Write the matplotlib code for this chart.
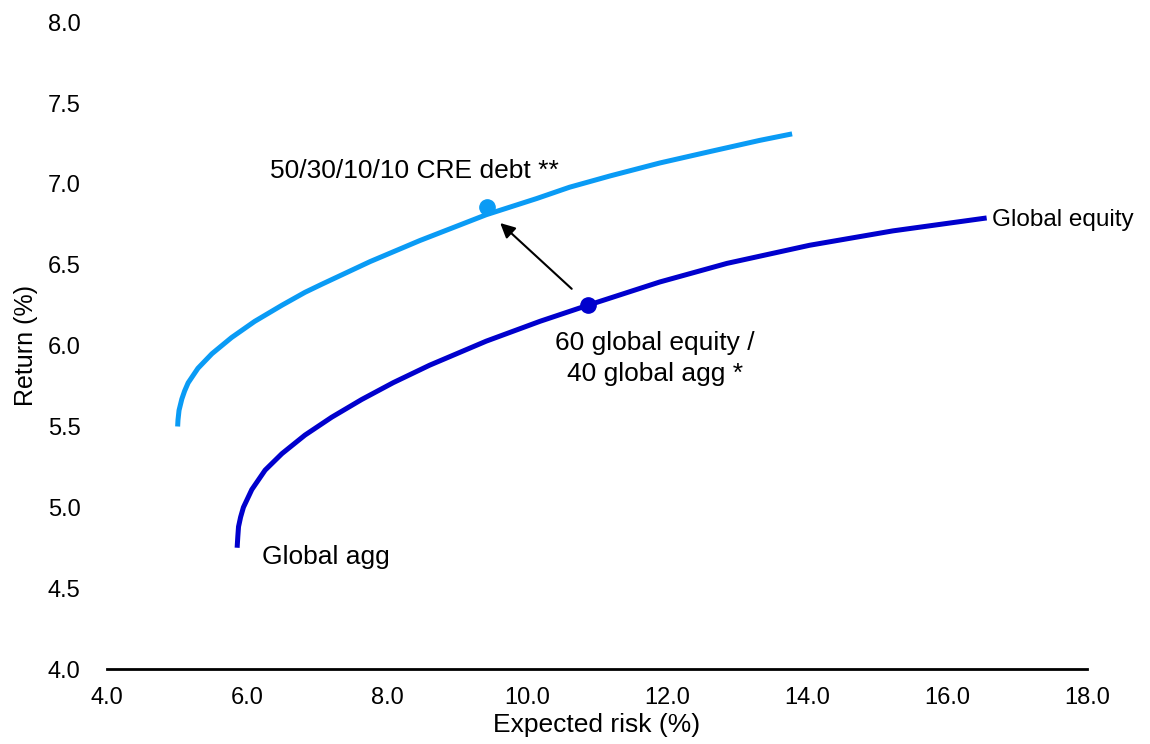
import matplotlib
matplotlib.use("Agg")
import matplotlib.pyplot as plt

plt.rcParams['font.family'] = ['Liberation Sans', 'DejaVu Sans']

# efficient frontier with CRE debt (light blue)
cre_risk = [5.01, 5.015, 5.03, 5.07, 5.11, 5.16, 5.30, 5.50, 5.78, 6.11, 6.50, 6.83, 7.07,
            7.76, 8.47, 9.42, 10.14, 10.61, 11.19, 11.90, 12.61, 13.33, 13.79]
cre_ret = [5.50, 5.54, 5.60, 5.67, 5.72, 5.77, 5.86, 5.95, 6.05, 6.15, 6.25, 6.33, 6.38,
           6.52, 6.65, 6.81, 6.91, 6.98, 7.05, 7.13, 7.20, 7.27, 7.31]

# traditional equity / global agg frontier (dark blue)
trad_risk = [5.86, 5.87, 5.88, 5.91, 5.95, 6.07, 6.26, 6.50, 6.83, 7.21, 7.64, 8.09, 8.61,
             9.42, 10.19, 10.88, 11.90, 12.86, 14.04, 15.23, 16.57]
trad_ret = [4.75, 4.82, 4.88, 4.94, 5.00, 5.11, 5.23, 5.332, 5.447, 5.557, 5.667, 5.771, 5.879,
            6.028, 6.151, 6.251, 6.394, 6.509, 6.621, 6.71, 6.79]

# highlighted portfolios
pt_6040 = (10.88, 6.25)
pt_cre = (9.43, 6.86)

light_blue = '#0A9BF5'
dark_blue = '#0000CD'

fig, ax = plt.subplots(figsize=(11.5, 7.44), dpi=100)
fig.subplots_adjust(left=0.093, right=0.945, bottom=0.1008, top=0.970)

ax.plot(cre_risk, cre_ret, color=light_blue, lw=3.6, solid_capstyle='butt', solid_joinstyle='round')
ax.plot(trad_risk, trad_ret, color=dark_blue, lw=3.6, solid_capstyle='butt', solid_joinstyle='round')
ax.plot(*pt_cre, 'o', color=light_blue, ms=11)
ax.plot(*pt_6040, 'o', color=dark_blue, ms=11)

# arrow from 60/40 toward CRE portfolio
ax.annotate('', xy=(9.59, 6.77), xytext=(10.67, 6.34),
            arrowprops=dict(arrowstyle='-|>', color='black', lw=1.5, mutation_scale=22))

fs = 19
ax.text(6.33, 7.08, '50/30/10/10 CRE debt **', fontsize=fs, ha='left', va='center')
ax.text(16.64, 6.78, 'Global equity', fontsize=17.5, ha='left', va='center')
ax.text(11.83, 5.92, '60 global equity /\n40 global agg *', fontsize=fs, ha='center', va='center',
        linespacing=1.35)
ax.text(6.21, 4.69, 'Global agg', fontsize=fs, ha='left', va='center')

ax.set_xlim(4, 18)
ax.set_ylim(4, 8)
ax.set_xticks([4, 6, 8, 10, 12, 14, 16, 18])
ax.set_yticks([4.0, 4.5, 5.0, 5.5, 6.0, 6.5, 7.0, 7.5, 8.0])
ax.xaxis.set_major_formatter(matplotlib.ticker.FormatStrFormatter('%.1f'))
ax.yaxis.set_major_formatter(matplotlib.ticker.FormatStrFormatter('%.1f'))
ax.tick_params(axis='both', length=0, labelsize=17)
ax.tick_params(axis='x', pad=13)
ax.tick_params(axis='y', pad=19)

for s in ['left', 'right', 'top']:
    ax.spines[s].set_visible(False)
ax.spines['bottom'].set_linewidth(2)
ax.spines['bottom'].set_color('black')

ax.set_xlabel('Expected risk (%)', fontsize=fs, labelpad=3)
ax.set_ylabel('Return (%)', fontsize=18, labelpad=7)

fig.savefig('out.png', dpi=100, facecolor='white')
